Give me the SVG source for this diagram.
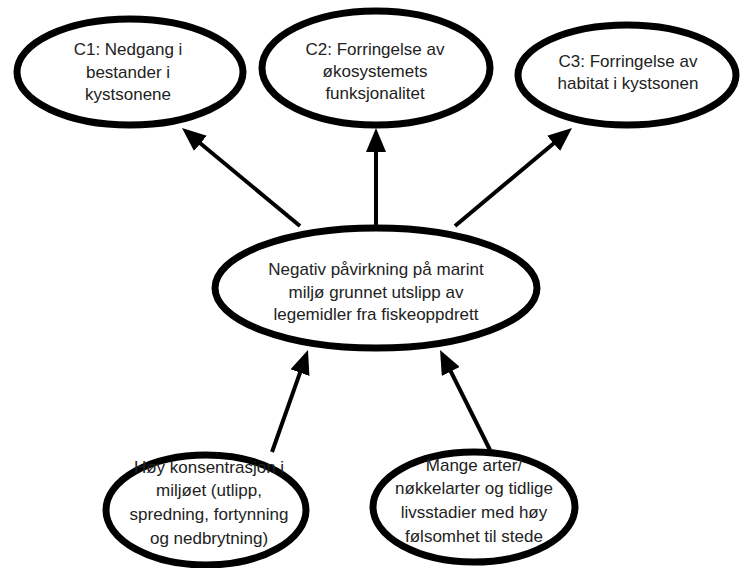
<svg xmlns="http://www.w3.org/2000/svg" width="741" height="568" viewBox="0 0 741 568">
<style>
.node ellipse{fill:#fff;stroke:#000;stroke-width:7}
.node text{font-family:"Liberation Sans",Arial,sans-serif;font-size:17px;fill:#222;text-anchor:middle}
.edge{stroke:#000;stroke-width:4;fill:none;marker-end:url(#ah)}
</style>
<defs>
<marker id="ah" markerUnits="userSpaceOnUse" viewBox="0 0 24 20" refX="12" refY="10" markerWidth="24" markerHeight="20" orient="auto">
<path d="M0,0 L24,10 L0,20 z" fill="#000"/>
</marker>
</defs>
<rect width="741" height="568" fill="#fff"/>
<g id="connectors">
<line class="edge" x1="300" y1="226" x2="191.2" y2="135.7"/>
<line class="edge" x1="376" y1="226" x2="376" y2="140"/>
<line class="edge" x1="455" y1="226" x2="562.8" y2="135.7"/>
<line class="edge" x1="272" y1="452" x2="304" y2="361.3"/>
<line class="edge" x1="490" y1="450" x2="445.4" y2="360.7"/>
</g>
<g id="c1" class="node">
<ellipse cx="130" cy="72" rx="113" ry="53"/>
<text x="128" y="55">C1: Nedgang i</text>
<text x="128" y="78">bestander i</text>
<text x="128" y="100">kystsonene</text>
</g>
<g id="c2" class="node">
<ellipse cx="376" cy="68" rx="114" ry="57"/>
<text x="375" y="55">C2: Forringelse av</text>
<text x="375" y="77">økosystemets</text>
<text x="375" y="99">funksjonalitet</text>
</g>
<g id="c3" class="node">
<ellipse cx="627" cy="75" rx="109" ry="50"/>
<text x="628" y="67">C3: Forringelse av</text>
<text x="628" y="89">habitat i kystsonen</text>
</g>
<g id="center" class="node">
<ellipse cx="376" cy="288" rx="161" ry="60"/>
<text x="376" y="275">Negativ påvirkning på marint</text>
<text x="376" y="298">miljø grunnet utslipp av</text>
<text x="376" y="320">legemidler fra fiskeoppdrett</text>
</g>
<g id="b1" class="node">
<ellipse cx="206" cy="510" rx="100" ry="55"/>
<text x="209" y="473">Høy konsentrasjon i</text>
<text x="209" y="496">miljøet (utlipp,</text>
<text x="209" y="520">spredning, fortynning</text>
<text x="209" y="544">og nedbrytning)</text>
</g>
<g id="b2" class="node">
<ellipse cx="474" cy="507" rx="101" ry="55"/>
<text x="474" y="471">Mange arter/</text>
<text x="474" y="494">nøkkelarter og tidlige</text>
<text x="474" y="518">livsstadier med høy</text>
<text x="474" y="542">følsomhet til stede</text>
</g>
</svg>
